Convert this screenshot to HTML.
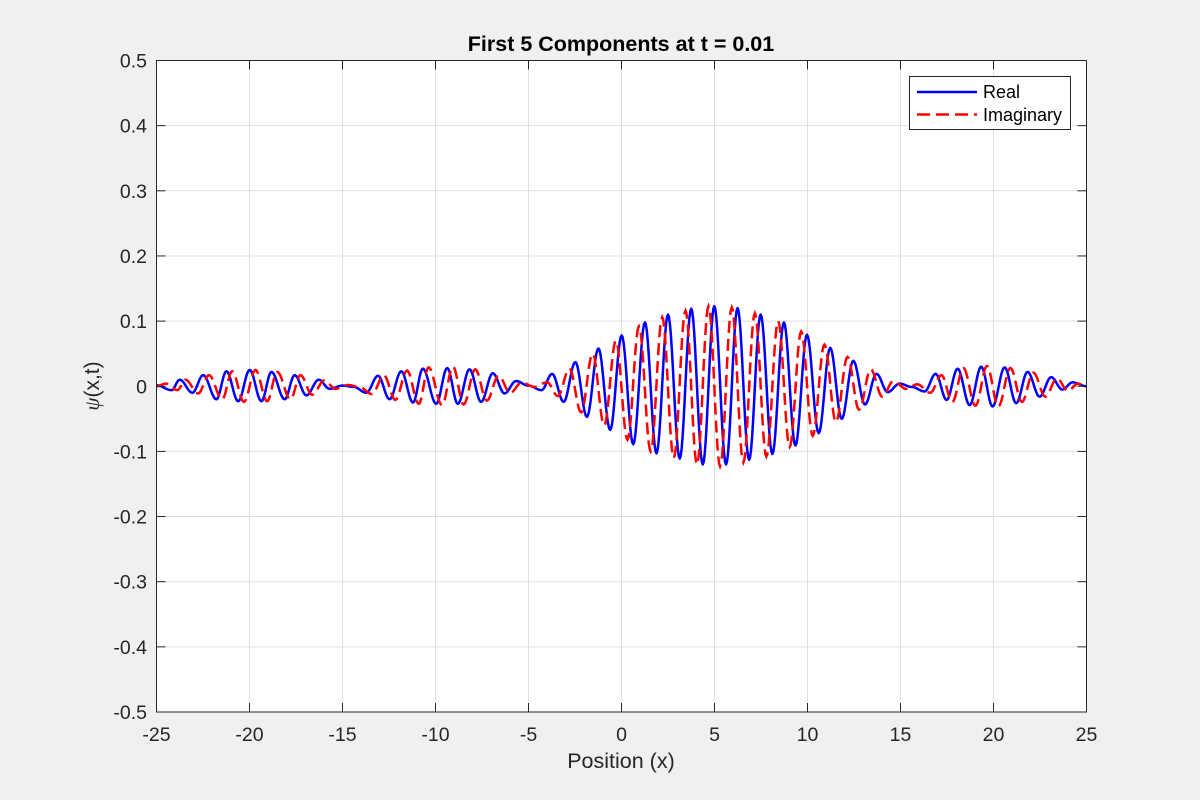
<!DOCTYPE html>
<html><head><meta charset="utf-8">
<style>
html,body{margin:0;padding:0;background:#f0f0f0;}
svg{display:block;font-family:"Liberation Sans",Arial,sans-serif;}
</style></head>
<body>
<svg id="chart" width="1200" height="800" viewBox="0 0 1200 800">
<rect x="0" y="0" width="1200" height="800" fill="#f0f0f0"/>
<rect x="156.5" y="60.5" width="930" height="651.5" fill="#fff"/>
<g id="grid"></g>
<g id="series"></g>
<rect x="156.5" y="60.5" width="930" height="651.5" fill="none" stroke="#262626" stroke-width="1"/>
<g id="ticks"></g>
<text x="621" y="51" text-anchor="middle" font-size="21.5" font-weight="bold" fill="#000">First 5 Components at t = 0.01</text>
<text x="621" y="768" text-anchor="middle" font-size="21.5" fill="#262626">Position (x)</text>
<text transform="translate(99,386) rotate(-90)" text-anchor="middle" font-size="21" fill="#262626"><tspan font-family="Liberation Serif,serif" font-style="italic">ψ</tspan>(x,t)</text>
<g>
<rect x="909.5" y="76.5" width="161" height="53" fill="#fff" stroke="#262626" stroke-width="1"/>
<line x1="917" y1="92" x2="977" y2="92" stroke="#0000ff" stroke-width="2.5"/>
<text x="983" y="98" font-size="18" fill="#000">Real</text>
<line x1="917" y1="114.5" x2="977" y2="114.5" stroke="#ff0000" stroke-width="2.5" stroke-dasharray="13,6"/>
<text x="983" y="121" font-size="18" fill="#000">Imaginary</text>
</g>
</svg>
<script>
const xTicks=[-25,-20,-15,-10,-5,0,5,10,15,20,25];
const yTicks=[-0.5,-0.4,-0.3,-0.2,-0.1,0,0.1,0.2,0.3,0.4,0.5];
const yTickLabels=["-0.5","-0.4","-0.3","-0.2","-0.1","0","0.1","0.2","0.3","0.4","0.5"];
const realX=[-25,-24.19,-23.75,-23.07,-22.49,-21.78,-21.24,-20.61,-19.99,-19.36,-18.82,-18.11,-17.57,-16.94,-16.28,-15.69,-15.0,-14.4,-13.72,-13.09,-12.47,-11.84,-11.21,-10.68,-9.96,-9.37,-8.8,-8.17,-7.55,-6.92,-6.29,-5.67,-5.0,-4.3,-3.73,-3.11,-2.48,-1.86,-1.24,-0.61,0.01,0.63,1.26,1.88,2.50,3.13,3.75,4.37,4.99,5.62,6.24,6.86,7.48,8.11,8.73,9.35,9.97,10.60,11.22,11.84,12.46,13.09,13.71,14.31,14.95,15.6,16.3,16.89,17.48,18.07,18.72,19.34,19.95,20.6,21.22,21.83,22.48,23.1,23.7,24.25,25];
const realY=[0.0015,-0.006,0.010,-0.010,0.017,-0.020,0.023,-0.023,0.025,-0.023,0.022,-0.020,0.017,-0.014,0.010,-0.004,0.001,-0.001,-0.010,0.016,-0.020,0.023,-0.025,0.027,-0.027,0.028,-0.027,0.026,-0.024,0.020,-0.011,0.008,0.001,-0.006,0.019,-0.024,0.037,-0.047,0.058,-0.067,0.078,-0.089,0.098,-0.103,0.110,-0.111,0.119,-0.120,0.123,-0.120,0.120,-0.113,0.110,-0.104,0.098,-0.091,0.079,-0.072,0.059,-0.050,0.039,-0.028,0.019,-0.009,0.004,-0.001,-0.008,0.019,-0.021,0.027,-0.029,0.030,-0.031,0.029,-0.026,0.022,-0.016,0.014,-0.005,0.006,0];
const imagX=[-25,-24.5,-23.88,-23.44,-22.76,-22.18,-21.47,-20.93,-20.30,-19.68,-19.05,-18.51,-17.80,-17.26,-16.63,-15.97,-15.38,-14.7,-14.1,-13.41,-12.78,-12.16,-11.53,-10.90,-10.37,-9.65,-9.06,-8.49,-7.86,-7.24,-6.61,-5.98,-5.36,-4.7,-4.0,-3.42,-2.80,-2.17,-1.55,-0.93,-0.30,0.32,0.94,1.57,2.19,2.81,3.44,4.06,4.68,5.30,5.93,6.55,7.17,7.79,8.42,9.04,9.66,10.28,10.91,11.53,12.15,12.77,13.40,14.02,14.62,15.3,15.9,16.6,17.2,17.79,18.38,19.03,19.65,20.26,20.91,21.53,22.14,22.79,23.41,24.0,24.55,25];
const imagY=[0,0.004,-0.006,0.010,-0.011,0.017,-0.020,0.023,-0.024,0.025,-0.023,0.022,-0.020,0.017,-0.013,0.009,-0.004,0.002,-0.001,-0.012,0.017,-0.021,0.024,-0.027,0.029,-0.029,0.030,-0.028,0.026,-0.022,0.016,-0.010,0.006,-0.001,0.006,-0.015,0.027,-0.040,0.050,-0.060,0.070,-0.082,0.092,-0.100,0.106,-0.110,0.116,-0.120,0.123,-0.123,0.121,-0.117,0.112,-0.108,0.100,-0.093,0.084,-0.076,0.064,-0.055,0.045,-0.036,0.026,-0.016,0.008,-0.004,0.003,-0.010,0.017,-0.024,0.028,-0.030,0.031,-0.031,0.028,-0.024,0.021,-0.016,0.012,-0.007,0.004,0];

const X0=156.5,X1=1086.5,Y0=712,Y1=60.5;
function sx(v){return X0+(v+25)/50*(X1-X0);}
function sy(v){return Y0-(v+0.5)/1.0*(Y0-Y1);}
const NS="http://www.w3.org/2000/svg";
function mk(tag,attrs,parent){const e=document.createElementNS(NS,tag);for(const k in attrs)e.setAttribute(k,attrs[k]);parent.appendChild(e);return e;}
const grid=document.getElementById('grid'),ticks=document.getElementById('ticks'),series=document.getElementById('series');
xTicks.forEach(function(t){
  const gx=sx(t);
  const gl=mk('line',{x1:gx,y1:Y1,x2:gx,y2:Y0,stroke:'#dfdfdf','stroke-width':1},grid);
  
  
  const t1=mk('line',{x1:gx,y1:Y0,x2:gx,y2:Y0-9,stroke:'#262626','stroke-width':1},ticks);
  
  
  const t2=mk('line',{x1:gx,y1:Y1,x2:gx,y2:Y1+9,stroke:'#262626','stroke-width':1},ticks);
  
  
  const lb=mk('text',{x:gx,y:741,'text-anchor':'middle','font-size':19.5,fill:'#262626'},ticks);
  lb.textContent=String(t);
  
  
});
yTicks.forEach(function(t,i){
  const gy=sy(t);
  const gl=mk('line',{x1:X0,y1:gy,x2:X1,y2:gy,stroke:'#dfdfdf','stroke-width':1},grid);
  
  
  const t1=mk('line',{x1:X0,y1:gy,x2:X0+9,y2:gy,stroke:'#262626','stroke-width':1},ticks);
  
  
  const t2=mk('line',{x1:X1,y1:gy,x2:X1-9,y2:gy,stroke:'#262626','stroke-width':1},ticks);
  
  
  const lb=mk('text',{x:147,y:gy+7,'text-anchor':'end','font-size':19.5,fill:'#262626'},ticks);
  lb.textContent=yTickLabels[i];
  
  
});
function pathFrom(xs,ys){
  let d='M'+sx(xs[0]).toFixed(2)+','+sy(ys[0]).toFixed(2);
  for(let i=0;i<xs.length-1;i++){
    const a=ys[i],b=ys[i+1];
    for(let k=1;k<=12;k++){
      const t=k/12;
      const xv=xs[i]+(xs[i+1]-xs[i])*t;
      const yv=a+(b-a)*(1-Math.cos(Math.PI*t))/2;
      d+=' L'+sx(xv).toFixed(2)+','+sy(yv).toFixed(2);
    }
  }
  return d;
}
const pr=mk('path',{d:pathFrom(realX,realY),fill:'none',stroke:'#0000ff','stroke-width':2.5,'stroke-linejoin':'round'},series);


const pi=mk('path',{d:pathFrom(imagX,imagY),fill:'none',stroke:'#ff0000','stroke-width':2.5,'stroke-dasharray':'12,6'},series);


</script>
</body></html>
